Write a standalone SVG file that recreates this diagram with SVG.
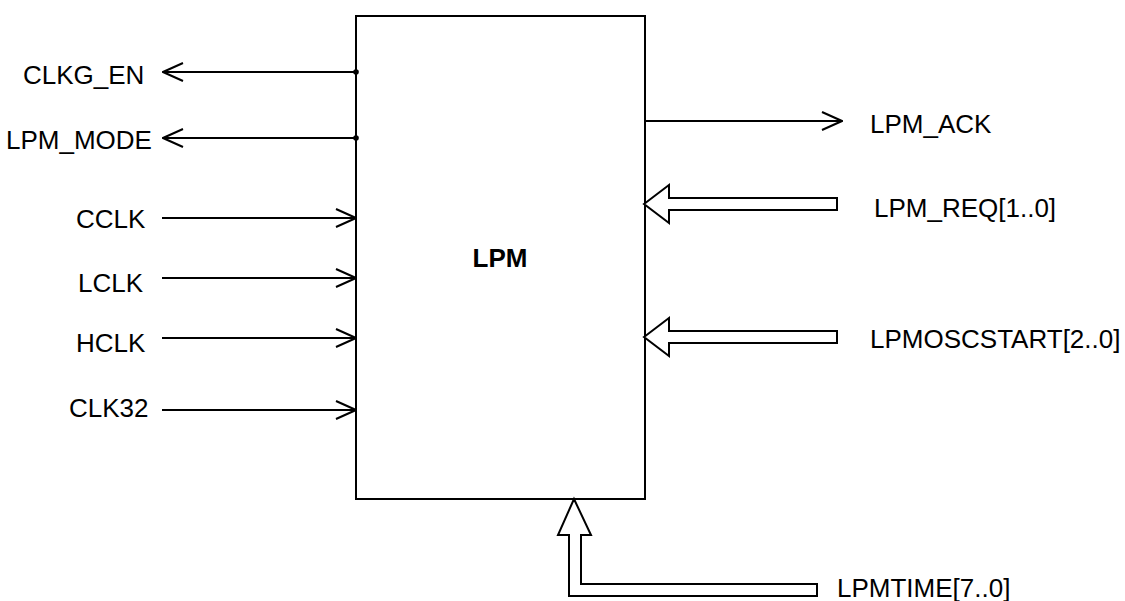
<svg xmlns="http://www.w3.org/2000/svg" width="1125" height="601" viewBox="0 0 1125 601">
<style>
text{font-family:"Liberation Sans",Arial,sans-serif;font-size:26px;fill:#000}
.t{font-weight:bold;font-size:26px}
.w{stroke:#000;stroke-width:2;fill:none}
.b{stroke:#000;stroke-width:2;fill:#fff}
</style>
<defs>
<marker id="chev" viewBox="0 0 22 20" refX="21" refY="10" markerWidth="22" markerHeight="20" markerUnits="userSpaceOnUse" orient="auto">
<path d="M1,1 L21,10 L1,19" fill="none" stroke="#000" stroke-width="2"/>
</marker>
<marker id="dot" viewBox="0 0 6 6" refX="3" refY="3" markerWidth="6" markerHeight="6" markerUnits="userSpaceOnUse">
<circle cx="3" cy="3" r="2.8" fill="#000"/>
</marker>
</defs>
<g id="LPM">
<rect class="b" x="356" y="16" width="289" height="483"/>
<text class="t" x="500" y="267" text-anchor="middle">LPM</text>
</g>
<g id="connectors">
<line class="w" x1="356" y1="72" x2="163" y2="72" marker-start="url(#dot)" marker-end="url(#chev)"/>
<line class="w" x1="356" y1="138" x2="163" y2="138" marker-start="url(#dot)" marker-end="url(#chev)"/>
<line class="w" x1="162" y1="218" x2="356" y2="218" marker-end="url(#chev)"/>
<line class="w" x1="162" y1="278" x2="356" y2="278" marker-end="url(#chev)"/>
<line class="w" x1="162" y1="338" x2="356" y2="338" marker-end="url(#chev)"/>
<line class="w" x1="162" y1="410" x2="356" y2="410" marker-end="url(#chev)"/>
<line class="w" x1="645" y1="121" x2="842" y2="121" marker-end="url(#chev)"/>
<polygon class="b" points="644,204 669,185 669,198 837,198 837,210 669,210 669,223"/>
<polygon class="b" points="644,337 669,318 669,331 837,331 837,343 669,343 669,356"/>
<polygon class="b" points="574,499 591,535 581,535 581,584 817,584 817,596 569,596 569,535 558,535"/>
</g>
<g id="labels">
<text x="23" y="84">CLKG_EN</text>
<text x="6" y="149">LPM_MODE</text>
<text x="76" y="228">CCLK</text>
<text x="78" y="292">LCLK</text>
<text x="76" y="352">HCLK</text>
<text x="69" y="417">CLK32</text>
<text x="870" y="133">LPM_ACK</text>
<text x="874" y="217">LPM_REQ[1..0]</text>
<text x="870" y="348">LPMOSCSTART[2..0]</text>
<text x="837" y="597">LPMTIME[7..0]</text>
</g>
</svg>
